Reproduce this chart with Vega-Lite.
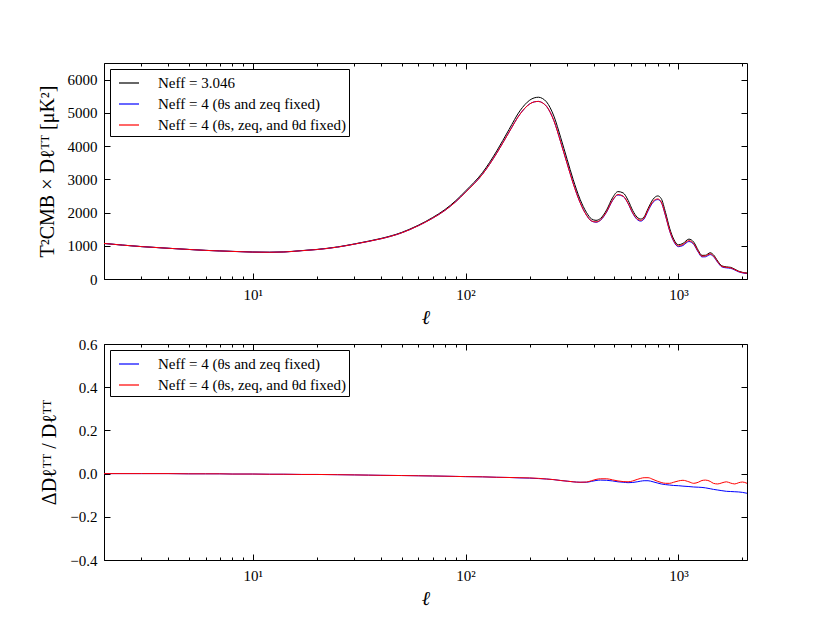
{
  "$schema": "https://vega.github.io/schema/vega-lite/v6.json",
  "background": "white",
  "padding": {"left": 36, "top": 62, "right": 5, "bottom": 5},
  "spacing": 65,
  "bounds": "flush",
  "config": {
    "view": {"stroke": "black", "strokeWidth": 1},
    "axis": {
      "domain": false, "grid": false,
      "labelFont": "Liberation Serif", "labelFontSize": 15, "labelColor": "black",
      "tickColor": "black", "tickWidth": 1,
      "titleFont": "Liberation Serif", "titleFontSize": 20, "titleFontWeight": "normal", "titleColor": "black"
    },
    "legend": {
      "orient": "top-left", "offset": 6, "title": null,
      "symbolType": "stroke", "symbolSize": 400, "symbolStrokeWidth": 1.2,
      "strokeColor": "black", "fillColor": "white", "padding": 3, "rowPadding": 2,
      "labelFont": "Liberation Serif", "labelFontSize": 15, "labelColor": "black",
      "labelOffset": 18, "symbolOffset": 5, "labelLimit": 400
    }
  },
  "datasets": {
    "spectrum": [
      {"l":2,"s":"ref","D":1070},{"l":3,"s":"ref","D":975},{"l":4,"s":"ref","D":925},{"l":5,"s":"ref","D":890},{"l":6,"s":"ref","D":862},{"l":7,"s":"ref","D":845},{"l":8,"s":"ref","D":832},{"l":10,"s":"ref","D":812},{"l":12,"s":"ref","D":806},{"l":14,"s":"ref","D":815},{"l":17,"s":"ref","D":855},{"l":20,"s":"ref","D":890},{"l":25,"s":"ref","D":965},{"l":30,"s":"ref","D":1055},{"l":35,"s":"ref","D":1140},{"l":40,"s":"ref","D":1220},{"l":50,"s":"ref","D":1400},{"l":60,"s":"ref","D":1620},{"l":70,"s":"ref","D":1850},{"l":80,"s":"ref","D":2090},{"l":90,"s":"ref","D":2360},{"l":100,"s":"ref","D":2650},{"l":120,"s":"ref","D":3200},{"l":140,"s":"ref","D":3850},{"l":160,"s":"ref","D":4500},{"l":180,"s":"ref","D":5060},{"l":200,"s":"ref","D":5380},{"l":210,"s":"ref","D":5450},{"l":220,"s":"ref","D":5470},{"l":230,"s":"ref","D":5430},{"l":240,"s":"ref","D":5330},{"l":260,"s":"ref","D":4900},{"l":280,"s":"ref","D":4250},{"l":300,"s":"ref","D":3600},{"l":320,"s":"ref","D":3000},{"l":345,"s":"ref","D":2400},{"l":370,"s":"ref","D":2000},{"l":390,"s":"ref","D":1810},{"l":410,"s":"ref","D":1765},{"l":430,"s":"ref","D":1820},{"l":460,"s":"ref","D":2080},{"l":490,"s":"ref","D":2440},{"l":520,"s":"ref","D":2630},{"l":550,"s":"ref","D":2590},{"l":580,"s":"ref","D":2370},{"l":610,"s":"ref","D":2060},{"l":640,"s":"ref","D":1860},{"l":665,"s":"ref","D":1805},{"l":690,"s":"ref","D":1870},{"l":720,"s":"ref","D":2120},{"l":760,"s":"ref","D":2400},{"l":800,"s":"ref","D":2500},{"l":830,"s":"ref","D":2420},{"l":870,"s":"ref","D":2000},{"l":910,"s":"ref","D":1520},{"l":950,"s":"ref","D":1200},{"l":1000,"s":"ref","D":1030},{"l":1050,"s":"ref","D":1070},{"l":1120,"s":"ref","D":1200},{"l":1180,"s":"ref","D":1110},{"l":1240,"s":"ref","D":860},{"l":1290,"s":"ref","D":710},{"l":1340,"s":"ref","D":715},{"l":1410,"s":"ref","D":790},{"l":1460,"s":"ref","D":730},{"l":1530,"s":"ref","D":540},{"l":1600,"s":"ref","D":395},{"l":1680,"s":"ref","D":365},{"l":1760,"s":"ref","D":350},{"l":1840,"s":"ref","D":295},{"l":1920,"s":"ref","D":235},{"l":2000,"s":"ref","D":200},{"l":2100,"s":"ref","D":180},
      {"l":2,"s":"zeq","D":1070},{"l":3,"s":"zeq","D":975},{"l":4,"s":"zeq","D":925},{"l":5,"s":"zeq","D":889},{"l":6,"s":"zeq","D":861},{"l":7,"s":"zeq","D":844},{"l":8,"s":"zeq","D":830},{"l":10,"s":"zeq","D":810},{"l":12,"s":"zeq","D":804},{"l":14,"s":"zeq","D":813},{"l":17,"s":"zeq","D":852},{"l":20,"s":"zeq","D":886},{"l":25,"s":"zeq","D":960},{"l":30,"s":"zeq","D":1049},{"l":35,"s":"zeq","D":1132},{"l":40,"s":"zeq","D":1210},{"l":50,"s":"zeq","D":1387},{"l":60,"s":"zeq","D":1604},{"l":70,"s":"zeq","D":1830},{"l":80,"s":"zeq","D":2065},{"l":90,"s":"zeq","D":2329},{"l":100,"s":"zeq","D":2613},{"l":120,"s":"zeq","D":3152},{"l":140,"s":"zeq","D":3785},{"l":160,"s":"zeq","D":4419},{"l":180,"s":"zeq","D":4959},{"l":200,"s":"zeq","D":5267},{"l":210,"s":"zeq","D":5330},{"l":220,"s":"zeq","D":5344},{"l":230,"s":"zeq","D":5300},{"l":240,"s":"zeq","D":5197},{"l":260,"s":"zeq","D":4763},{"l":280,"s":"zeq","D":4114},{"l":300,"s":"zeq","D":3474},{"l":320,"s":"zeq","D":2886},{"l":345,"s":"zeq","D":2304},{"l":370,"s":"zeq","D":1920},{"l":390,"s":"zeq","D":1745},{"l":410,"s":"zeq","D":1709},{"l":430,"s":"zeq","D":1765},{"l":460,"s":"zeq","D":2016},{"l":490,"s":"zeq","D":2357},{"l":520,"s":"zeq","D":2530},{"l":550,"s":"zeq","D":2486},{"l":580,"s":"zeq","D":2270},{"l":610,"s":"zeq","D":1976},{"l":640,"s":"zeq","D":1789},{"l":665,"s":"zeq","D":1742},{"l":690,"s":"zeq","D":1808},{"l":720,"s":"zeq","D":2050},{"l":760,"s":"zeq","D":2309},{"l":800,"s":"zeq","D":2390},{"l":830,"s":"zeq","D":2304},{"l":870,"s":"zeq","D":1898},{"l":910,"s":"zeq","D":1439},{"l":950,"s":"zeq","D":1134},{"l":1000,"s":"zeq","D":972},{"l":1050,"s":"zeq","D":1008},{"l":1120,"s":"zeq","D":1128},{"l":1180,"s":"zeq","D":1041},{"l":1240,"s":"zeq","D":806},{"l":1290,"s":"zeq","D":665},{"l":1340,"s":"zeq","D":668},{"l":1410,"s":"zeq","D":735},{"l":1460,"s":"zeq","D":677},{"l":1530,"s":"zeq","D":499},{"l":1600,"s":"zeq","D":364},{"l":1680,"s":"zeq","D":335},{"l":1760,"s":"zeq","D":321},{"l":1840,"s":"zeq","D":270},{"l":1920,"s":"zeq","D":215},{"l":2000,"s":"zeq","D":183},{"l":2100,"s":"zeq","D":164},
      {"l":2,"s":"thd","D":1070},{"l":3,"s":"thd","D":975},{"l":4,"s":"thd","D":925},{"l":5,"s":"thd","D":889},{"l":6,"s":"thd","D":861},{"l":7,"s":"thd","D":844},{"l":8,"s":"thd","D":830},{"l":10,"s":"thd","D":810},{"l":12,"s":"thd","D":804},{"l":14,"s":"thd","D":813},{"l":17,"s":"thd","D":852},{"l":20,"s":"thd","D":886},{"l":25,"s":"thd","D":960},{"l":30,"s":"thd","D":1049},{"l":35,"s":"thd","D":1132},{"l":40,"s":"thd","D":1210},{"l":50,"s":"thd","D":1387},{"l":60,"s":"thd","D":1604},{"l":70,"s":"thd","D":1830},{"l":80,"s":"thd","D":2065},{"l":90,"s":"thd","D":2329},{"l":100,"s":"thd","D":2613},{"l":120,"s":"thd","D":3152},{"l":140,"s":"thd","D":3785},{"l":160,"s":"thd","D":4419},{"l":180,"s":"thd","D":4959},{"l":200,"s":"thd","D":5267},{"l":210,"s":"thd","D":5330},{"l":220,"s":"thd","D":5344},{"l":230,"s":"thd","D":5300},{"l":240,"s":"thd","D":5197},{"l":260,"s":"thd","D":4763},{"l":280,"s":"thd","D":4114},{"l":300,"s":"thd","D":3474},{"l":320,"s":"thd","D":2886},{"l":345,"s":"thd","D":2304},{"l":370,"s":"thd","D":1920},{"l":390,"s":"thd","D":1750},{"l":410,"s":"thd","D":1717},{"l":430,"s":"thd","D":1776},{"l":460,"s":"thd","D":2030},{"l":490,"s":"thd","D":2369},{"l":520,"s":"thd","D":2541},{"l":550,"s":"thd","D":2494},{"l":580,"s":"thd","D":2280},{"l":610,"s":"thd","D":1990},{"l":640,"s":"thd","D":1810},{"l":665,"s":"thd","D":1765},{"l":690,"s":"thd","D":1834},{"l":720,"s":"thd","D":2080},{"l":760,"s":"thd","D":2335},{"l":800,"s":"thd","D":2410},{"l":830,"s":"thd","D":2321},{"l":870,"s":"thd","D":1910},{"l":910,"s":"thd","D":1452},{"l":950,"s":"thd","D":1152},{"l":1000,"s":"thd","D":993},{"l":1050,"s":"thd","D":1037},{"l":1120,"s":"thd","D":1154},{"l":1180,"s":"thd","D":1060},{"l":1240,"s":"thd","D":826},{"l":1290,"s":"thd","D":687},{"l":1340,"s":"thd","D":694},{"l":1410,"s":"thd","D":758},{"l":1460,"s":"thd","D":696},{"l":1530,"s":"thd","D":514},{"l":1600,"s":"thd","D":379},{"l":1680,"s":"thd","D":351},{"l":1760,"s":"thd","D":335},{"l":1840,"s":"thd","D":281},{"l":1920,"s":"thd","D":225},{"l":2000,"s":"thd","D":192},{"l":2100,"s":"thd","D":172}
    ],
    "ratio": [
      {"l":2,"s":"zeq","r":0},{"l":3,"s":"zeq","r":0},{"l":4,"s":"zeq","r":0},{"l":5,"s":"zeq","r":-0.001},{"l":6,"s":"zeq","r":-0.001},{"l":7,"s":"zeq","r":-0.001},{"l":8,"s":"zeq","r":-0.002},{"l":10,"s":"zeq","r":-0.002},{"l":12,"s":"zeq","r":-0.003},{"l":14,"s":"zeq","r":-0.003},{"l":17,"s":"zeq","r":-0.004},{"l":20,"s":"zeq","r":-0.004},{"l":25,"s":"zeq","r":-0.005},{"l":30,"s":"zeq","r":-0.006},{"l":35,"s":"zeq","r":-0.007},{"l":40,"s":"zeq","r":-0.008},{"l":50,"s":"zeq","r":-0.009},{"l":60,"s":"zeq","r":-0.010},{"l":70,"s":"zeq","r":-0.011},{"l":80,"s":"zeq","r":-0.012},{"l":90,"s":"zeq","r":-0.013},{"l":100,"s":"zeq","r":-0.014},{"l":120,"s":"zeq","r":-0.015},{"l":140,"s":"zeq","r":-0.017},{"l":160,"s":"zeq","r":-0.018},{"l":180,"s":"zeq","r":-0.020},{"l":200,"s":"zeq","r":-0.021},{"l":220,"s":"zeq","r":-0.023},{"l":240,"s":"zeq","r":-0.025},{"l":260,"s":"zeq","r":-0.028},{"l":280,"s":"zeq","r":-0.032},{"l":300,"s":"zeq","r":-0.035},{"l":320,"s":"zeq","r":-0.038},{"l":345,"s":"zeq","r":-0.040},{"l":370,"s":"zeq","r":-0.040},{"l":390,"s":"zeq","r":-0.036},{"l":410,"s":"zeq","r":-0.032},{"l":430,"s":"zeq","r":-0.030},{"l":460,"s":"zeq","r":-0.031},{"l":490,"s":"zeq","r":-0.034},{"l":520,"s":"zeq","r":-0.038},{"l":550,"s":"zeq","r":-0.040},{"l":580,"s":"zeq","r":-0.042},{"l":610,"s":"zeq","r":-0.041},{"l":640,"s":"zeq","r":-0.038},{"l":665,"s":"zeq","r":-0.035},{"l":690,"s":"zeq","r":-0.033},{"l":720,"s":"zeq","r":-0.033},{"l":760,"s":"zeq","r":-0.038},{"l":800,"s":"zeq","r":-0.044},{"l":830,"s":"zeq","r":-0.048},{"l":870,"s":"zeq","r":-0.051},{"l":910,"s":"zeq","r":-0.053},{"l":950,"s":"zeq","r":-0.055},{"l":1000,"s":"zeq","r":-0.056},{"l":1050,"s":"zeq","r":-0.058},{"l":1120,"s":"zeq","r":-0.060},{"l":1180,"s":"zeq","r":-0.062},{"l":1240,"s":"zeq","r":-0.063},{"l":1290,"s":"zeq","r":-0.064},{"l":1340,"s":"zeq","r":-0.066},{"l":1410,"s":"zeq","r":-0.070},{"l":1460,"s":"zeq","r":-0.073},{"l":1530,"s":"zeq","r":-0.076},{"l":1600,"s":"zeq","r":-0.079},{"l":1680,"s":"zeq","r":-0.082},{"l":1760,"s":"zeq","r":-0.083},{"l":1840,"s":"zeq","r":-0.084},{"l":1920,"s":"zeq","r":-0.085},{"l":2000,"s":"zeq","r":-0.087},{"l":2100,"s":"zeq","r":-0.091},
      {"l":2,"s":"thd","r":0},{"l":3,"s":"thd","r":0},{"l":4,"s":"thd","r":0},{"l":5,"s":"thd","r":-0.001},{"l":6,"s":"thd","r":-0.001},{"l":7,"s":"thd","r":-0.001},{"l":8,"s":"thd","r":-0.002},{"l":10,"s":"thd","r":-0.002},{"l":12,"s":"thd","r":-0.003},{"l":14,"s":"thd","r":-0.003},{"l":17,"s":"thd","r":-0.004},{"l":20,"s":"thd","r":-0.004},{"l":25,"s":"thd","r":-0.005},{"l":30,"s":"thd","r":-0.006},{"l":35,"s":"thd","r":-0.007},{"l":40,"s":"thd","r":-0.008},{"l":50,"s":"thd","r":-0.009},{"l":60,"s":"thd","r":-0.010},{"l":70,"s":"thd","r":-0.011},{"l":80,"s":"thd","r":-0.012},{"l":90,"s":"thd","r":-0.013},{"l":100,"s":"thd","r":-0.014},{"l":120,"s":"thd","r":-0.015},{"l":140,"s":"thd","r":-0.017},{"l":160,"s":"thd","r":-0.018},{"l":180,"s":"thd","r":-0.019},{"l":200,"s":"thd","r":-0.020},{"l":220,"s":"thd","r":-0.022},{"l":240,"s":"thd","r":-0.025},{"l":260,"s":"thd","r":-0.028},{"l":280,"s":"thd","r":-0.032},{"l":300,"s":"thd","r":-0.035},{"l":320,"s":"thd","r":-0.038},{"l":345,"s":"thd","r":-0.040},{"l":370,"s":"thd","r":-0.039},{"l":390,"s":"thd","r":-0.033},{"l":410,"s":"thd","r":-0.027},{"l":430,"s":"thd","r":-0.024},{"l":460,"s":"thd","r":-0.024},{"l":490,"s":"thd","r":-0.029},{"l":520,"s":"thd","r":-0.034},{"l":550,"s":"thd","r":-0.037},{"l":580,"s":"thd","r":-0.038},{"l":610,"s":"thd","r":-0.034},{"l":640,"s":"thd","r":-0.027},{"l":665,"s":"thd","r":-0.022},{"l":690,"s":"thd","r":-0.019},{"l":720,"s":"thd","r":-0.019},{"l":760,"s":"thd","r":-0.027},{"l":800,"s":"thd","r":-0.036},{"l":830,"s":"thd","r":-0.041},{"l":870,"s":"thd","r":-0.045},{"l":910,"s":"thd","r":-0.045},{"l":950,"s":"thd","r":-0.040},{"l":1000,"s":"thd","r":-0.034},{"l":1050,"s":"thd","r":-0.031},{"l":1120,"s":"thd","r":-0.038},{"l":1180,"s":"thd","r":-0.045},{"l":1240,"s":"thd","r":-0.040},{"l":1290,"s":"thd","r":-0.032},{"l":1340,"s":"thd","r":-0.030},{"l":1410,"s":"thd","r":-0.036},{"l":1460,"s":"thd","r":-0.045},{"l":1530,"s":"thd","r":-0.048},{"l":1600,"s":"thd","r":-0.043},{"l":1680,"s":"thd","r":-0.038},{"l":1760,"s":"thd","r":-0.044},{"l":1840,"s":"thd","r":-0.048},{"l":1920,"s":"thd","r":-0.042},{"l":2000,"s":"thd","r":-0.039},{"l":2100,"s":"thd","r":-0.045}
    ]
  },
  "vconcat": [
    {
      "width": 643,
      "height": 216,
      "layer": [
        {
          "data": {"name": "spectrum"},
          "mark": {"type": "line", "strokeWidth": 1, "clip": true, "interpolate": "monotone"},
          "encoding": {
            "x": {
              "field": "l", "type": "quantitative",
              "scale": {"type": "log", "domain": [2, 2100], "nice": false},
              "axis": {
                "orient": "bottom",
                "values": [2,3,4,5,6,7,8,9,10,20,30,40,50,60,70,80,90,100,200,300,400,500,600,700,800,900,1000,2000],
                "labelExpr": "datum.value == 10 ? '10¹' : datum.value == 100 ? '10²' : datum.value == 1000 ? '10³' : ''",
                "labelOverlap": false, "labelFlush": false,
                "tickSize": {"condition": {"test": "datum.value == 10 || datum.value == 100 || datum.value == 1000", "value": -6}, "value": -3},
                "labelPadding": 14,
                "title": "ℓ", "titleFontStyle": "italic", "titlePadding": 2
              }
            },
            "y": {
              "field": "D", "type": "quantitative",
              "scale": {"domain": [0, 6500], "nice": false},
              "axis": {
                "orient": "left",
                "values": [0, 1000, 2000, 3000, 4000, 5000, 6000],
                "format": "d",
                "tickSize": -6, "labelPadding": 13,
                "title": "T²CMB × Dℓᵀᵀ [μK²]", "titlePadding": 10
              }
            },
            "color": {
              "field": "s", "type": "nominal",
              "scale": {"domain": ["ref", "zeq", "thd"], "range": ["black", "blue", "red"]},
              "legend": {
                "labelExpr": "datum.value == 'ref' ? 'Neff = 3.046' : datum.value == 'zeq' ? 'Neff = 4 (θs and zeq fixed)' : 'Neff = 4 (θs, zeq, and θd fixed)'",
                "symbolStrokeColor": {"expr": "datum.value == 'ref' ? 'black' : datum.value == 'zeq' ? 'blue' : 'red'"}
              }
            }
          }
        },
        {
          "data": {"values": []},
          "mark": {"type": "point"},
          "encoding": {
            "x": {
              "field": "l", "type": "quantitative",
              "scale": {"type": "log", "domain": [2, 2100], "nice": false},
              "axis": {
                "orient": "top", "labels": false, "title": null,
                "values": [2,3,4,5,6,7,8,9,10,20,30,40,50,60,70,80,90,100,200,300,400,500,600,700,800,900,1000,2000],
                "tickSize": {"condition": {"test": "datum.value == 10 || datum.value == 100 || datum.value == 1000", "value": -6}, "value": -3}
              }
            },
            "y": {
              "field": "D", "type": "quantitative",
              "scale": {"domain": [0, 6500], "nice": false},
              "axis": {
                "orient": "right", "labels": false, "title": null,
                "values": [0, 1000, 2000, 3000, 4000, 5000, 6000],
                "tickSize": -6
              }
            }
          }
        }
      ],
      "resolve": {"axis": {"x": "independent", "y": "independent"}}
    },
    {
      "width": 643,
      "height": 216,
      "layer": [
        {
          "data": {"name": "ratio"},
          "mark": {"type": "line", "strokeWidth": 1, "clip": true, "interpolate": "monotone"},
          "encoding": {
            "x": {
              "field": "l", "type": "quantitative",
              "scale": {"type": "log", "domain": [2, 2100], "nice": false},
              "axis": {
                "orient": "bottom",
                "values": [2,3,4,5,6,7,8,9,10,20,30,40,50,60,70,80,90,100,200,300,400,500,600,700,800,900,1000,2000],
                "labelExpr": "datum.value == 10 ? '10¹' : datum.value == 100 ? '10²' : datum.value == 1000 ? '10³' : ''",
                "labelOverlap": false, "labelFlush": false,
                "tickSize": {"condition": {"test": "datum.value == 10 || datum.value == 100 || datum.value == 1000", "value": -6}, "value": -3},
                "labelPadding": 14,
                "title": "ℓ", "titleFontStyle": "italic", "titlePadding": 2
              }
            },
            "y": {
              "field": "r", "type": "quantitative",
              "scale": {"domain": [-0.4, 0.6], "nice": false},
              "axis": {
                "orient": "left",
                "values": [-0.4, -0.2, 0, 0.2, 0.4, 0.6],
                "format": ".1f",
                "tickSize": -6, "labelPadding": 13,
                "title": "ΔDℓᵀᵀ / Dℓᵀᵀ", "titlePadding": 10
              }
            },
            "color": {
              "field": "s", "type": "nominal",
              "scale": {"domain": ["ref", "zeq", "thd"], "range": ["black", "blue", "red"]},
              "legend": {
                "values": ["zeq", "thd"],
                "labelExpr": "datum.value == 'zeq' ? 'Neff = 4 (θs and zeq fixed)' : 'Neff = 4 (θs, zeq, and θd fixed)'",
                "symbolStrokeColor": {"expr": "datum.value == 'zeq' ? 'blue' : 'red'"}
              }
            }
          }
        },
        {
          "data": {"values": []},
          "mark": {"type": "point"},
          "encoding": {
            "x": {
              "field": "l", "type": "quantitative",
              "scale": {"type": "log", "domain": [2, 2100], "nice": false},
              "axis": {
                "orient": "top", "labels": false, "title": null,
                "values": [2,3,4,5,6,7,8,9,10,20,30,40,50,60,70,80,90,100,200,300,400,500,600,700,800,900,1000,2000],
                "tickSize": {"condition": {"test": "datum.value == 10 || datum.value == 100 || datum.value == 1000", "value": -6}, "value": -3}
              }
            },
            "y": {
              "field": "r", "type": "quantitative",
              "scale": {"domain": [-0.4, 0.6], "nice": false},
              "axis": {
                "orient": "right", "labels": false, "title": null,
                "values": [-0.4, -0.2, 0, 0.2, 0.4, 0.6],
                "tickSize": -6
              }
            }
          }
        }
      ],
      "resolve": {"axis": {"x": "independent", "y": "independent"}}
    }
  ],
  "resolve": {"legend": {"color": "independent"}}
}
